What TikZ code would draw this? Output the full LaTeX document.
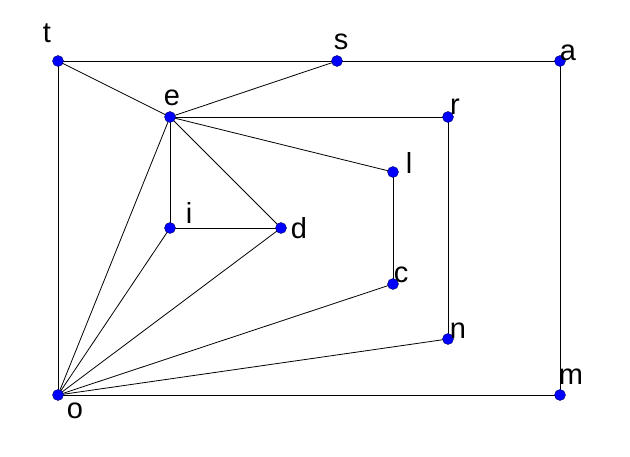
\documentclass[tikz,border=0pt]{standalone}
\usepackage{fontspec}
\setmainfont{Liberation Sans}
\usetikzlibrary{calc,backgrounds}
\tikzset{
  vtx/.style={
    circle,
    draw=blue!40!black,
    line width=0.4pt,
    fill=blue,
    minimum size=11pt,
    inner sep=0pt
  },
  lbl/.style={font=\fontsize{29}{31}\selectfont, inner sep=0pt, anchor=center},
  edge/.style={draw=black, line width=0.8pt},
}

\begin{document}
\begin{tikzpicture}[x=1pt,y=-1pt]
  \useasboundingbox (0,0) rectangle (630,457);
  % vertices
  \foreach \v/\x/\y in {t/58/61,s/337/61,a/560/61,e/170/117,r/448/117,l/393/172,
                        i/170/228,d/281/228,c/393/284,n/448/339,o/58/395,m/560/395} {
    \node[vtx] (\v) at (\x,\y) {};
  }
  % labels
  \foreach \v/\dx/\dy in {t/-11/-28,s/4/-19,a/8/-8,e/2/-19,r/7/-10,l/16/-9,
                          i/19/-15,d/18/0,c/8/-9,n/10/-8,o/17/16,m/11/-18} {
    \node[lbl] at ($(\v)+(\dx,\dy)$) {\v};
  }
  % edges
  \begin{scope}[on background layer]
    \foreach \a/\b in {t/s,s/a,a/m,m/o,o/t,t/e,e/s,e/r,r/n,n/o,e/l,l/c,c/o,
                       e/i,i/d,e/d,d/o,i/o,e/o} {
      \draw[edge] (\a.center) -- (\b.center);
    }
  \end{scope}
\end{tikzpicture}
\end{document}
